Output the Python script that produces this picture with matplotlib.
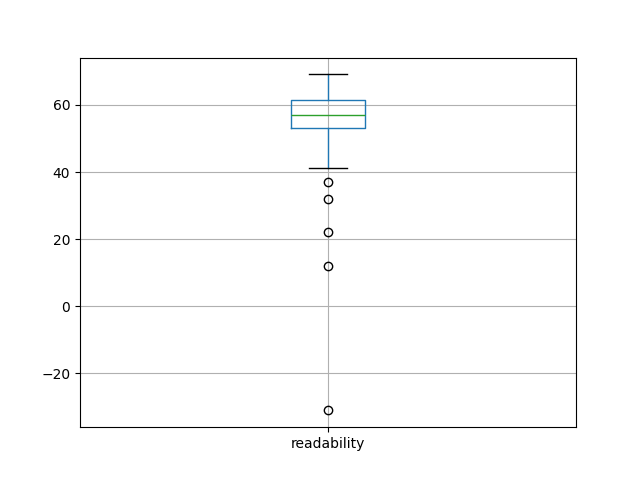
import matplotlib.pyplot as plt

# box statistics for "readability"
labels = ["readability"]
whislo = [41.1]
q1 = [53.0]
med = [57.0]
q3 = [61.4]
whishi = [69.1]
fliers = [[36.9, 31.9, 22.0, 11.9, -31.0]]

stats = []
for i in range(len(labels)):
    stats.append({
        "label": labels[i],
        "whislo": whislo[i],
        "q1": q1[i],
        "med": med[i],
        "q3": q3[i],
        "whishi": whishi[i],
        "fliers": fliers[i],
    })

fig, ax = plt.subplots(figsize=(6.4, 4.8), dpi=100)
ax.bxp(
    stats,
    boxprops=dict(color="#1f77b4"),
    whiskerprops=dict(color="#1f77b4"),
    medianprops=dict(color="#2ca02c"),
    capprops=dict(color="black"),
    flierprops=dict(marker="o", markeredgecolor="black", markerfacecolor="none"),
)
ax.grid(True)
plt.savefig("out.png")
